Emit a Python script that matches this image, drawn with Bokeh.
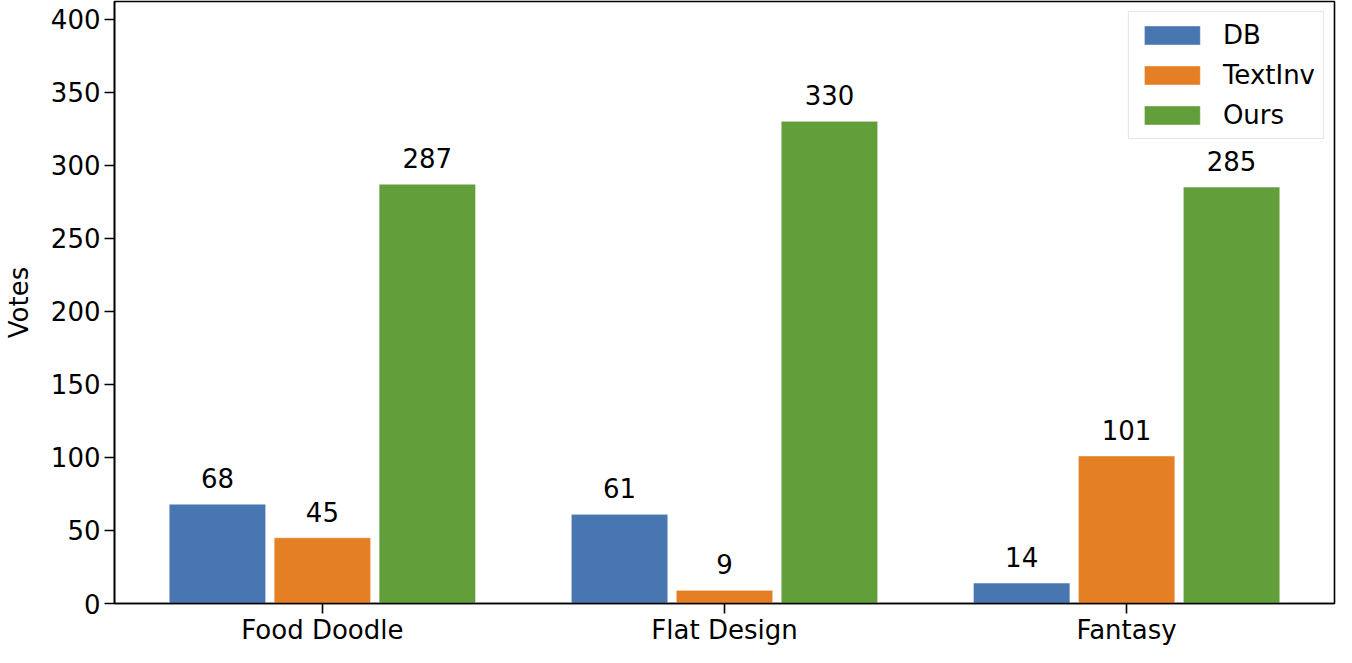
from bokeh.plotting import figure
from bokeh.models import ColumnDataSource, Range1d, FixedTicker, LabelSet
from bokeh.transform import dodge
from bokeh.core.properties import value
from bokeh.embed import file_html
from bokeh.resources import INLINE

categories = ["Food Doodle", "Flat Design", "Fantasy"]
series_names = ["DB", "TextInv", "Ours"]
db_votes = [68, 61, 14]
textinv_votes = [45, 9, 101]
ours_votes = [287, 330, 285]
colors = ["#4876b0", "#e47f24", "#629f3a"]
y_ticks = [0, 50, 100, 150, 200, 250, 300, 350, 400]

FONT = "DejaVu Sans"
FS = "26px"

src = ColumnDataSource(dict(
    idx=list(range(len(categories))),
    DB=db_votes,
    TextInv=textinv_votes,
    Ours=ours_votes,
    DB_t=[str(v) for v in db_votes],
    TextInv_t=[str(v) for v in textinv_votes],
    Ours_t=[str(v) for v in ours_votes],
))

p = figure(width=1336, height=647, output_backend="svg", toolbar_location=None,
           x_range=Range1d(-0.517, 2.517), y_range=Range1d(0, 412),
           min_border_left=103, min_border_right=2, min_border_top=1, min_border_bottom=40)

offsets = [-0.261, 0.0, 0.261]
bar_w = 0.24
for name, col, off in zip(series_names, colors, offsets):
    p.vbar(x=dodge("idx", off, range=p.x_range), top=name, width=bar_w, bottom=0,
           source=src, fill_color=col, line_color="white", line_alpha=0.5, line_width=1,
           legend_label=name)
    lbl = LabelSet(x=dodge("idx", off, range=p.x_range), y=name, text=name + "_t",
                   source=src, text_align="center", text_baseline="alphabetic",
                   y_offset=16, text_font=value(FONT), text_font_size=value(FS),
                   text_color="black")
    p.add_layout(lbl)

p.xgrid.visible = False
p.ygrid.visible = False
p.outline_line_color = "black"
p.outline_line_width = 1.6

p.xaxis.ticker = FixedTicker(ticks=list(range(len(categories))))
p.xaxis.major_label_overrides = {i: c for i, c in enumerate(categories)}
p.yaxis.ticker = FixedTicker(ticks=y_ticks)

for ax in (p.xaxis, p.yaxis):
    ax.axis_line_color = "black"
    ax.axis_line_width = 1.6
    ax.major_tick_line_color = "black"
    ax.major_tick_line_width = 1.6
    ax.major_tick_out = 10
    ax.major_tick_in = 0
    ax.minor_tick_line_color = None
    ax.major_label_text_font = FONT
    ax.major_label_text_font_size = FS
    ax.major_label_text_color = "black"
    ax.axis_label_text_font = FONT
    ax.axis_label_text_font_size = FS
    ax.axis_label_text_font_style = "normal"
    ax.axis_label_text_color = "black"

p.xaxis.major_label_standoff = 1
p.yaxis.major_label_standoff = 4
p.yaxis.axis_label = "Votes"
p.yaxis.axis_label_standoff = 14

lg = p.legend[0]
lg.location = "top_right"
lg.margin = 10
lg.padding = 8
lg.spacing = 10
lg.glyph_width = 70
lg.glyph_height = 24
lg.label_height = 30
lg.label_standoff = 16
lg.label_text_font = FONT
lg.label_text_font_size = FS
lg.label_text_color = "black"
lg.border_line_color = "#cccccc"
lg.border_line_width = 1.5
lg.background_fill_color = "white"
lg.background_fill_alpha = 0.8

open("out.html", "w").write(file_html(p, INLINE))
